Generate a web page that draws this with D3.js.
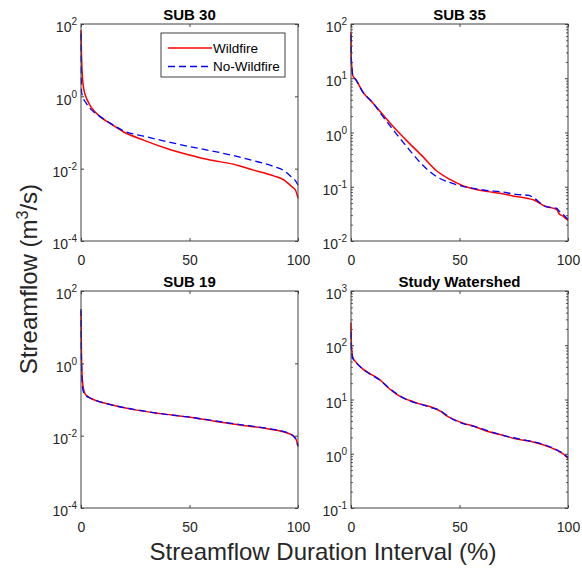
<!DOCTYPE html>
<html>
<head>
  <meta charset="utf-8">
  <title>Flow duration curves</title>
  <style>
    body { margin: 0; background: #fff; }
    svg text { font-family: "Liberation Sans", Arial, sans-serif; }
  </style>
</head>
<body>
<div class="container"></div>
<script src="https://d3js.org/d3.v7.min.js"></script>
<script>
// ---- data (percent of time exceeded, flow in m3/s) ----
var seriesNames = ["Wildfire", "No-Wildfire"];
var xTicks = [0, 50, 100];

var sub30Pct  = [0, 0.1, 0.25, 0.5, 1.0, 2.3, 3.7, 4.6, 8.8, 13.4, 19.5, 28.8, 39.5, 50, 59.5, 70.3, 79.5, 88.8, 93.4, 97.2, 98.8, 100];
var sub30Fire = [67.6, 31.6, 12.6, 5.01, 2.0, 0.955, 0.631, 0.513, 0.275, 0.178, 0.105, 0.0617, 0.0363, 0.024, 0.0174, 0.0132, 0.00912, 0.00631, 0.0049, 0.00316, 0.00257, 0.00151];
var sub30NoFire = [55.0, 10.0, 1.32, 1.12, 0.891, 0.661, 0.501, 0.437, 0.275, 0.182, 0.112, 0.0794, 0.0562, 0.0407, 0.0316, 0.0229, 0.0166, 0.0115, 0.00891, 0.00575, 0.00468, 0.00355];

var sub35Pct  = [0, 0.1, 0.4, 0.8, 2.3, 5.4, 10, 14.6, 20.8, 26.9, 33, 39, 45.4, 51.5, 57.7, 63, 68.7, 76, 82, 84, 89.4, 94.8, 96, 97.7, 100];
var sub35Fire = [70.8, 25.1, 15.8, 11.2, 9.33, 5.62, 3.55, 2.14, 1.12, 0.631, 0.363, 0.204, 0.138, 0.105, 0.0891, 0.0813, 0.0759, 0.0661, 0.0603, 0.0575, 0.0437, 0.038, 0.0316, 0.0288, 0.024];
var sub35NoFire = [63.1, 25.1, 15.8, 11.2, 9.33, 5.62, 3.55, 2.0, 0.955, 0.479, 0.251, 0.158, 0.120, 0.102, 0.0912, 0.0851, 0.0813, 0.0724, 0.0692, 0.0631, 0.0437, 0.0398, 0.0355, 0.0309, 0.0251];

var sub19Pct  = [0, 0.1, 0.2, 0.4, 0.7, 1.2, 2.0, 3.5, 5.7, 13.5, 24.3, 36.7, 49, 61.5, 74, 86, 95.7, 98.8, 100];
var sub19Fire = [28.2, 6.31, 2.0, 0.631, 0.316, 0.191, 0.141, 0.117, 0.1, 0.0724, 0.0525, 0.0407, 0.0331, 0.0251, 0.0195, 0.0155, 0.0115, 0.00871, 0.00525];
var sub19NoFire = [31.6, 7.94, 1.58, 0.447, 0.224, 0.158, 0.132, 0.115, 0.1, 0.0724, 0.0537, 0.0407, 0.0331, 0.0257, 0.02, 0.0158, 0.0117, 0.00832, 0.00501];

var shedPct  = [0, 0.1, 0.3, 0.9, 2.5, 5.5, 9, 13.2, 17, 20.9, 24.5, 28.6, 32.5, 36.3, 40.9, 44.5, 48.6, 52, 56.3, 64, 70, 76.5, 82.6, 88.8, 95, 98, 100];
var shedFire = [263, 141, 89.1, 58.9, 47.9, 36.3, 29.5, 23.4, 16.6, 12.6, 10.5, 9.12, 8.13, 7.41, 6.17, 4.90, 4.07, 3.63, 3.24, 2.51, 2.19, 1.86, 1.70, 1.45, 1.15, 0.977, 0.813];
var shedNoFire = [178, 100, 70.8, 56.2, 46.8, 36.3, 28.8, 22.9, 17.0, 12.9, 10.5, 8.91, 8.13, 7.24, 6.31, 5.01, 3.98, 3.55, 3.24, 2.57, 2.19, 1.91, 1.70, 1.48, 1.17, 1.0, 0.851];

var panels = [
  {title: "SUB 30", pct: sub30Pct, fire: sub30Fire, nofire: sub30NoFire, yDomain: [1e-4, 1e2], yTicks: [1e-4, 1e-2, 1e0, 1e2], minor: false, x: 81, y: 24, legend: true},
  {title: "SUB 35", pct: sub35Pct, fire: sub35Fire, nofire: sub35NoFire, yDomain: [1e-2, 1e2], yTicks: [1e-2, 1e-1, 1e0, 1e1, 1e2], minor: true, x: 351, y: 24},
  {title: "SUB 19", pct: sub19Pct, fire: sub19Fire, nofire: sub19NoFire, yDomain: [1e-4, 1e2], yTicks: [1e-4, 1e-2, 1e0, 1e2], minor: false, x: 81, y: 291},
  {title: "Study Watershed", pct: shedPct, fire: shedFire, nofire: shedNoFire, yDomain: [1e-1, 1e3], yTicks: [1e-1, 1e0, 1e1, 1e2, 1e3], minor: true, x: 351, y: 291}
];

var W = 582, H = 569, pw = 217, ph = 217;
var axisCol = "#404040", textCol = "#262626";
var red = "#ff0000", blue = "#0000ff";

var svg = d3.select(".container").append("svg")
    .attr("width", W).attr("height", H);

function minorTicks(domain) {
  var out = [];
  var lo = Math.round(Math.log10(domain[0])), hi = Math.round(Math.log10(domain[1]));
  for (var e = lo; e < hi; e++) {
    for (var m = 2; m <= 9; m++) out.push(m * Math.pow(10, e));
  }
  return out;
}

panels.forEach(function(p) {
  var g = svg.append("g").attr("transform", "translate(" + p.x + "," + p.y + ")");

  var xScale = d3.scaleLinear().domain([0, 100]).range([0, pw]);
  var yScale = d3.scaleLog().domain(p.yDomain).range([ph, 0]);

  // minor log ticks (left + right)
  if (p.minor) {
    var mt = minorTicks(p.yDomain);
    g.append("g").call(d3.axisLeft(yScale).tickValues(mt).tickFormat("").tickSizeInner(-1.8).tickSizeOuter(0))
      .call(function(a) { a.select(".domain").remove(); a.selectAll("line").attr("stroke", axisCol); });
    g.append("g").attr("transform", "translate(" + pw + ",0)")
      .call(d3.axisRight(yScale).tickValues(mt).tickFormat("").tickSizeInner(-1.8).tickSizeOuter(0))
      .call(function(a) { a.select(".domain").remove(); a.selectAll("line").attr("stroke", axisCol); });
  }

  // lines
  var line = d3.line()
      .x(function(d) { return xScale(d[0]); })
      .y(function(d) { return yScale(d[1]); })
      .curve(d3.curveMonotoneX);

  var fireData = p.pct.map(function(v, i) { return [v, p.fire[i]]; });
  var noFireData = p.pct.map(function(v, i) { return [v, p.nofire[i]]; });

  g.append("path").datum(fireData)
    .attr("d", line).attr("fill", "none")
    .attr("stroke", red).attr("stroke-width", 1.5);
  g.append("path").datum(noFireData)
    .attr("d", line).attr("fill", "none")
    .attr("stroke", blue).attr("stroke-width", 1.3)
    .attr("stroke-dasharray", "7,4");

  // box
  g.append("rect").attr("width", pw).attr("height", ph)
    .attr("fill", "none").attr("stroke", axisCol).attr("stroke-width", 1);

  // y axis left with 10^n labels
  var yAx = g.append("g")
    .call(d3.axisLeft(yScale).tickValues(p.yTicks).tickSizeInner(-3).tickSizeOuter(0).tickPadding(4));
  yAx.select(".domain").remove();
  yAx.selectAll("line").attr("stroke", axisCol);
  yAx.selectAll(".tick text").each(function(d) {
    var t = d3.select(this).text("")
      .attr("font-size", 14).attr("fill", textCol).attr("dy", "0.55em");
    t.append("tspan").text("10");
    t.append("tspan").attr("dy", -7).attr("font-size", 10).text(Math.round(Math.log10(d)));
  });

  // y axis right (ticks only)
  var yAxR = g.append("g").attr("transform", "translate(" + pw + ",0)")
    .call(d3.axisRight(yScale).tickValues(p.yTicks).tickFormat("").tickSizeInner(-3).tickSizeOuter(0));
  yAxR.select(".domain").remove();
  yAxR.selectAll("line").attr("stroke", axisCol);

  // x axis bottom
  var xAx = g.append("g").attr("transform", "translate(0," + ph + ")")
    .call(d3.axisBottom(xScale).tickValues(xTicks).tickSizeInner(-3).tickSizeOuter(0).tickPadding(14));
  xAx.select(".domain").remove();
  xAx.selectAll("line").attr("stroke", axisCol);
  xAx.selectAll("text").attr("font-size", 14).attr("fill", textCol);

  // x axis top (ticks only)
  var xAxT = g.append("g")
    .call(d3.axisTop(xScale).tickValues(xTicks).tickFormat("").tickSizeInner(-3).tickSizeOuter(0));
  xAxT.select(".domain").remove();
  xAxT.selectAll("line").attr("stroke", axisCol);

  // title
  g.append("text")
    .attr("x", pw / 2).attr("y", -4.5)
    .attr("text-anchor", "middle")
    .attr("font-size", 15).attr("font-weight", "bold").attr("fill", "#000")
    .text(p.title);

  // legend
  if (p.legend) {
    var lg = g.append("g").attr("transform", "translate(" + (161 - p.x) + "," + (33 - p.y) + ")");
    lg.append("rect").attr("width", 124).attr("height", 44)
      .attr("fill", "#fff").attr("stroke", axisCol).attr("stroke-width", 1);
    seriesNames.forEach(function(name, i) {
      var yy = 15 + i * 18.5;
      lg.append("line").attr("x1", 7).attr("x2", 51).attr("y1", yy).attr("y2", yy)
        .attr("stroke", i === 0 ? red : blue)
        .attr("stroke-width", i === 0 ? 1.5 : 1.3)
        .attr("stroke-dasharray", i === 0 ? null : "7,4");
      lg.append("text").attr("x", 52).attr("y", yy).attr("dy", "0.35em")
        .attr("font-size", 13.5).attr("fill", "#000").text(name);
    });
  }
});

// shared axis labels
var yl = svg.append("text")
  .attr("transform", "translate(37,279) rotate(-90)")
  .attr("text-anchor", "middle")
  .attr("font-size", 24).attr("fill", textCol);
yl.append("tspan").text("Streamflow (m");
yl.append("tspan").attr("dy", -9).attr("font-size", 16).text("3");
yl.append("tspan").attr("dy", 9).text("/s)");

svg.append("text")
  .attr("x", 323).attr("y", 560)
  .attr("text-anchor", "middle")
  .attr("font-size", 24).attr("fill", textCol)
  .text("Streamflow Duration Interval (%)");
</script>
</body>
</html>
